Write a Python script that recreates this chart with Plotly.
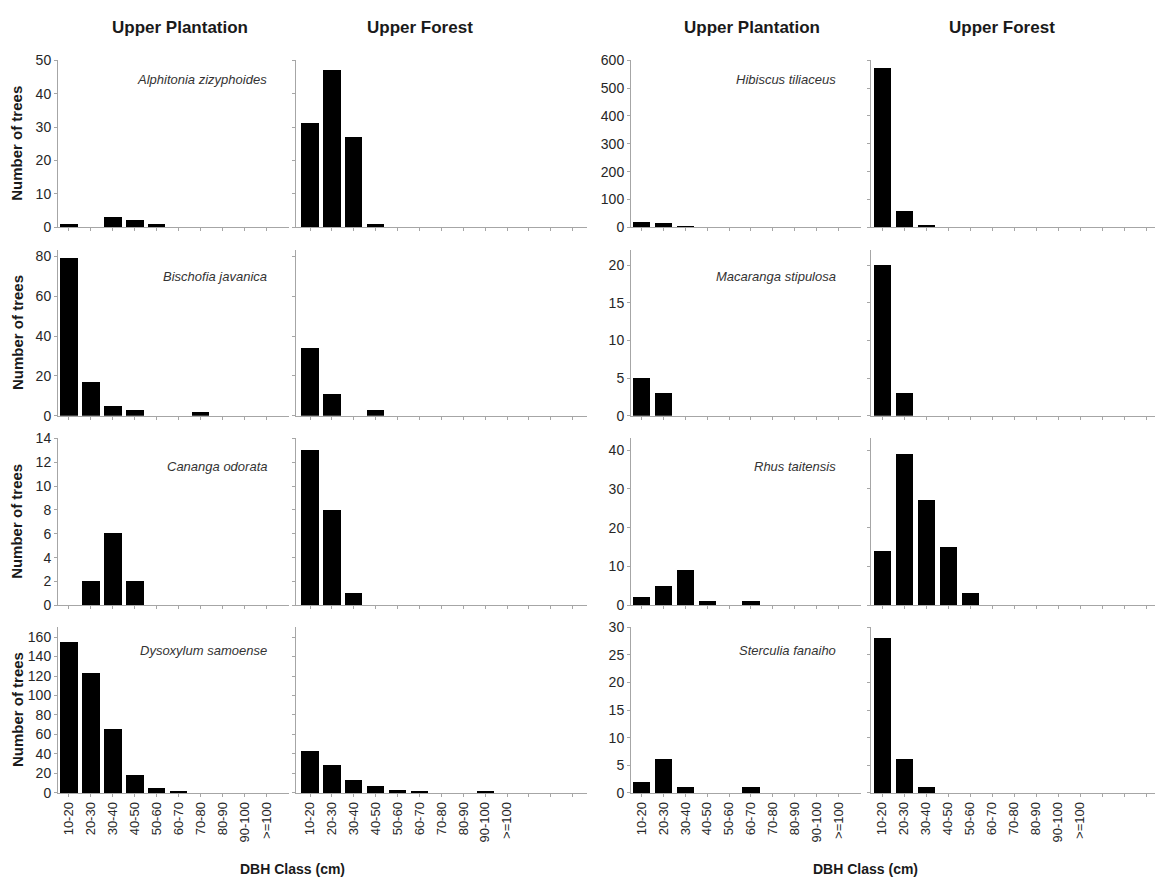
import plotly.graph_objects as go

# DBH size classes (cm)
DBH_CLASSES = ["10-20", "20-30", "30-40", "40-50", "50-60",
               "60-70", "70-80", "80-90", "90-100", ">=100"]

SITES = ["Upper Plantation", "Upper Forest"]

# Left block of species
alphitonia_plantation = [1, 0, 3, 2, 1, 0, 0, 0, 0, 0]
alphitonia_forest = [31, 47, 27, 1, 0, 0, 0, 0, 0, 0]
bischofia_plantation = [79, 17, 5, 3, 0, 0, 2, 0, 0, 0]
bischofia_forest = [34, 11, 0, 3, 0, 0, 0, 0, 0, 0]
cananga_plantation = [0, 2, 6, 2, 0, 0, 0, 0, 0, 0]
cananga_forest = [13, 8, 1, 0, 0, 0, 0, 0, 0, 0]
dysoxylum_plantation = [155, 123, 65, 18, 5, 2, 0, 0, 0, 0]
dysoxylum_forest = [43, 28, 13, 7, 3, 2, 0, 0, 1, 0]

# Right block of species
hibiscus_plantation = [16, 14, 3, 0, 0, 0, 0, 0, 0, 0]
hibiscus_forest = [572, 57, 6, 0, 0, 0, 0, 0, 0, 0]
macaranga_plantation = [5, 3, 0, 0, 0, 0, 0, 0, 0, 0]
macaranga_forest = [20, 3, 0, 0, 0, 0, 0, 0, 0, 0]
rhus_plantation = [2, 5, 9, 1, 0, 1, 0, 0, 0, 0]
rhus_forest = [14, 39, 27, 15, 3, 0, 0, 0, 0, 0]
sterculia_plantation = [2, 6, 1, 0, 0, 1, 0, 0, 0, 0]
sterculia_forest = [28, 6, 1, 0, 0, 0, 0, 0, 0, 0]

LEFT_SPECIES = ["Alphitonia zizyphoides", "Bischofia javanica",
                "Cananga odorata", "Dysoxylum samoense"]
RIGHT_SPECIES = ["Hibiscus tiliaceus", "Macaranga stipulosa",
                 "Rhus taitensis", "Sterculia fanaiho"]

LEFT_DATA = [(alphitonia_plantation, alphitonia_forest),
             (bischofia_plantation, bischofia_forest),
             (cananga_plantation, cananga_forest),
             (dysoxylum_plantation, dysoxylum_forest)]
RIGHT_DATA = [(hibiscus_plantation, hibiscus_forest),
              (macaranga_plantation, macaranga_forest),
              (rhus_plantation, rhus_forest),
              (sterculia_plantation, sterculia_forest)]

# y-axis maximum and tick step per row, for the left and right blocks
LEFT_YAXIS = [(50, 10), (83, 20), (14, 2), (170, 20)]
RIGHT_YAXIS = [(600, 100), (22, 5), (43, 10), (30, 5)]

W, H = 1155, 888
FONT = "Arial, Liberation Sans, sans-serif"
AXIS_GREY = "#a6a6a6"
TEXT = "#262626"


def px_x(v):
    return v / W


def px_y(v):
    return 1 - v / H


# panel geometry in pixels: (x0, x1, range lo, range hi, number of ticks)
COLS = [
    (58, 289, -0.5, 10.02, 10),     # left block, plantation
    (296, 587, -0.64, 12.65, 13),   # left block, forest
    (631, 861, -0.49, 10.04, 10),   # right block, plantation
    (871, 1155, -0.51, 12.4, 13),   # right block, forest
]
ROWS = [(53.3, 223.3), (246.7, 415.3), (438.3, 608.3), (630.7, 799.3)]
SPECIES_LABEL_Y = [72.7, 273.3, 466.7, 654.3]

fig = go.Figure()
layout = {}
annotations = []
idx = 0
for r, (top, bottom) in enumerate(ROWS):
    for c, (x0, x1, lo, hi, nticks) in enumerate(COLS):
        idx += 1
        block = 0 if c < 2 else 1
        site = c % 2
        data = (LEFT_DATA if block == 0 else RIGHT_DATA)[r][site]
        ymax, dtick = (LEFT_YAXIS if block == 0 else RIGHT_YAXIS)[r]
        xa = "x" if idx == 1 else f"x{idx}"
        ya = "y" if idx == 1 else f"y{idx}"
        fig.add_trace(go.Bar(
            x=list(range(len(DBH_CLASSES))), y=data,
            width=0.79, marker=dict(color="black", line=dict(width=0)),
            xaxis=xa, yaxis=ya, showlegend=False,
        ))
        ticktext = DBH_CLASSES + [""] * (nticks - len(DBH_CLASSES))
        layout["xaxis" if idx == 1 else f"xaxis{idx}"] = dict(
            domain=[px_x(x0), px_x(x1)], range=[lo, hi],
            anchor=ya, showgrid=False, zeroline=False,
            showline=True, linecolor=AXIS_GREY, linewidth=1,
            ticks="outside", ticklen=3, tickcolor=AXIS_GREY, tickwidth=1,
            tickmode="array", tickvals=list(range(nticks)), ticktext=ticktext,
            showticklabels=(r == 3), tickangle=-90,
            tickfont=dict(family=FONT, size=13, color=TEXT),
            fixedrange=True,
        )
        layout["yaxis" if idx == 1 else f"yaxis{idx}"] = dict(
            domain=[px_y(bottom), px_y(top)], range=[0, ymax],
            anchor=xa, showgrid=False, zeroline=False,
            showline=True, linecolor=AXIS_GREY, linewidth=1,
            ticks="outside", ticklen=3, tickcolor=AXIS_GREY, tickwidth=1,
            dtick=dtick, tick0=0, showticklabels=(site == 0),
            tickfont=dict(family=FONT, size=14, color=TEXT),
            fixedrange=True,
        )
    # species names, italic, top-right of the plantation panels
    for block, names, xr in ((0, LEFT_SPECIES, 269), (1, RIGHT_SPECIES, 838)):
        annotations.append(dict(
            text=f"<i>{names[r]}</i>", x=px_x(xr), y=px_y(SPECIES_LABEL_Y[r]),
            xref="paper", yref="paper", xanchor="right", yanchor="middle",
            showarrow=False, font=dict(family=FONT, size=13, color="#333333"),
        ))
    # y-axis title for the left block
    annotations.append(dict(
        text="<b>Number of trees</b>", x=px_x(17), y=px_y((top + bottom) / 2),
        xref="paper", yref="paper", xanchor="center", yanchor="middle",
        textangle=-90, showarrow=False,
        font=dict(family=FONT, size=15, color="#1a1a1a"),
    ))

# column headings
for xc, label in ((180, SITES[0]), (420, SITES[1]), (752, SITES[0]), (1002, SITES[1])):
    annotations.append(dict(
        text=f"<b>{label}</b>", x=px_x(xc), y=px_y(20),
        xref="paper", yref="paper", xanchor="center", yanchor="middle",
        showarrow=False, font=dict(family=FONT, size=17, color="#1a1a1a"),
    ))

# x-axis titles
for xc in (292, 865):
    annotations.append(dict(
        text="<b>DBH Class (cm)</b>", x=px_x(xc), y=px_y(876.5),
        xref="paper", yref="paper", xanchor="center", yanchor="middle",
        showarrow=False, font=dict(family=FONT, size=14, color="#1a1a1a"),
    ))

fig.update_layout(
    **layout,
    annotations=annotations,
    width=W, height=H,
    margin=dict(l=0, r=0, t=0, b=0),
    paper_bgcolor="white", plot_bgcolor="white",
    bargap=0, showlegend=False,
)

fig.write_html("out.html", config={"displayModeBar": False})
